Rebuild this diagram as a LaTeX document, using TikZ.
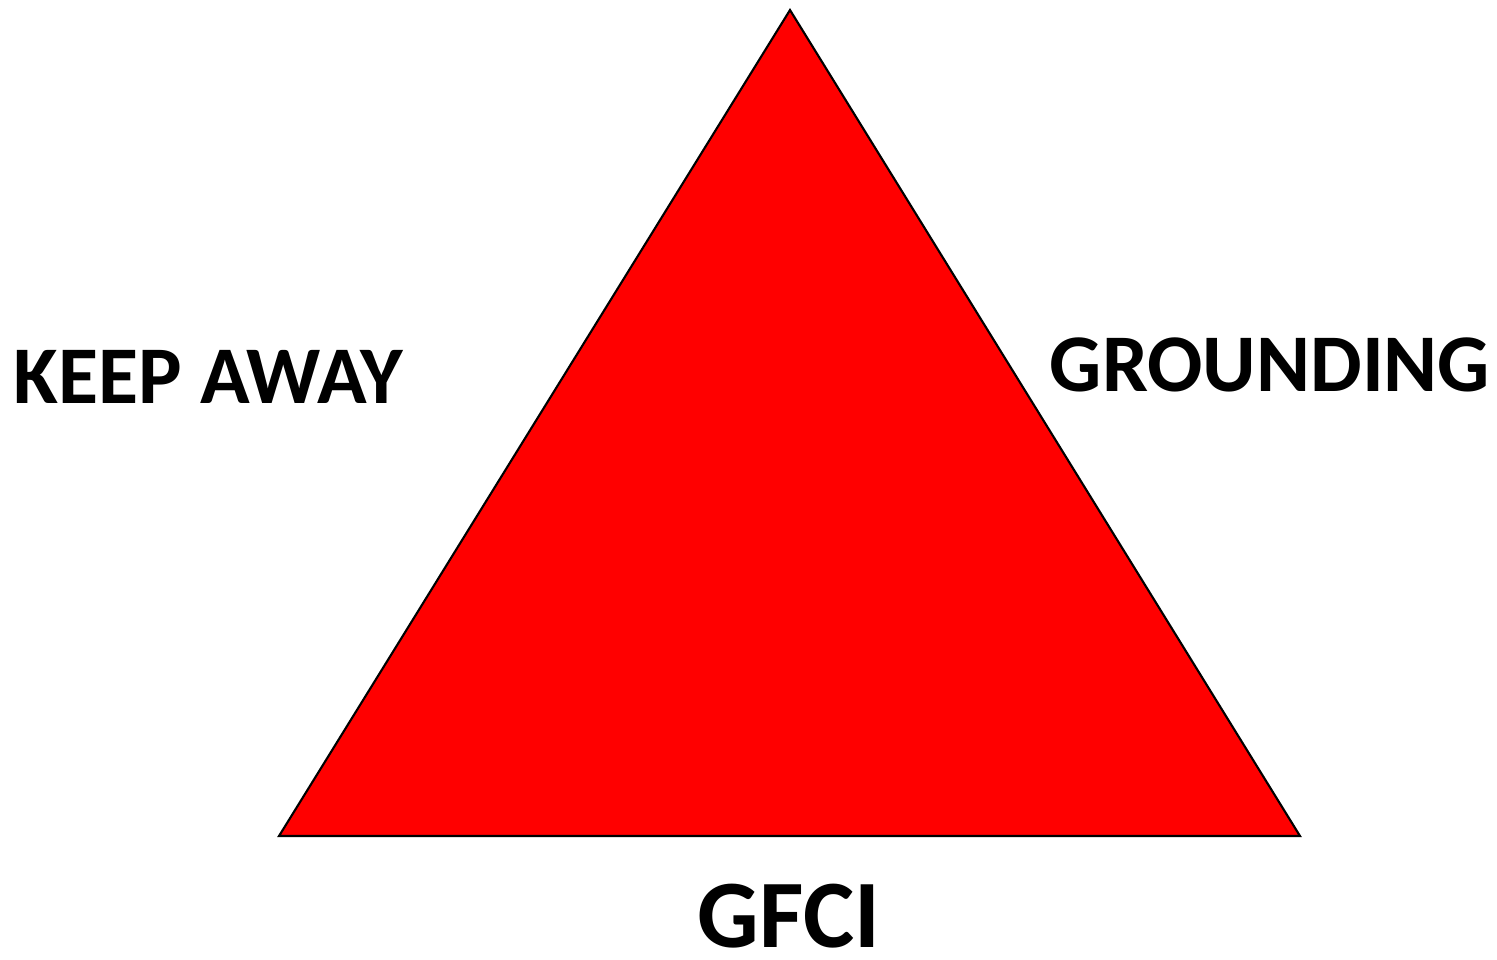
\documentclass[tikz,border=0pt]{standalone}
\usepackage{fontspec}
\setmainfont{Carlito}
\usepackage{tikz}

\begin{document}
\begin{tikzpicture}[x=0.01cm, y=-0.01cm]
        % --- Khung nền ---
        \useasboundingbox (0,0) rectangle (1497,959);

        % --- Tam giác đỏ ---
        \coordinate (Top) at (790, 10);
        \coordinate (Left) at (279, 836);
        \coordinate (Right) at (1300, 836);
        \filldraw[fill=red, draw=black, line width=0.6pt, line join=miter] (Top) -- (Left) -- (Right) -- cycle;

        % --- Nhãn ---
        \tikzset{side label/.style={font=\fontsize{23.3}{28}\selectfont\bfseries, inner sep=0pt}}
        \node[side label] (keepaway) at (208, 377) {KEEP AWAY};
        \node[side label] (grounding) at (1270, 364.5) {GROUNDING};
        \node[side label, font=\fontsize{27.5}{32}\selectfont\bfseries] (gfci) at (789, 916) {GFCI};
    \end{tikzpicture}
\end{document}
